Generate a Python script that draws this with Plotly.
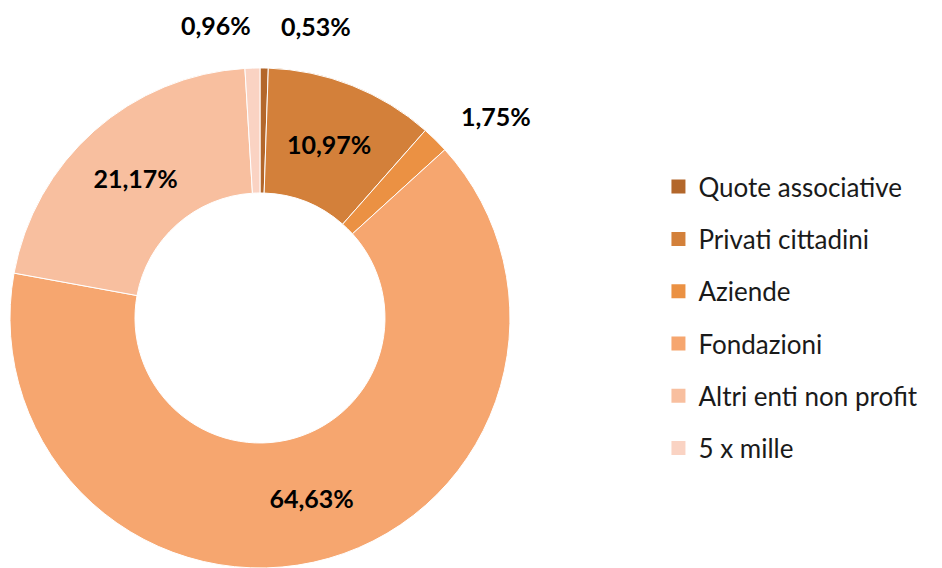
import plotly.graph_objects as go

# Fonti di finanziamento (%)
labels = ["Quote associative", "Privati cittadini", "Aziende",
          "Fondazioni", "Altri enti non profit", "5 x mille"]
values = [0.53, 10.97, 1.75, 64.63, 21.17, 0.96]
colors = ["#B3672B", "#D3803A", "#EB9143", "#F6A66F", "#F8BF9F", "#FAD3C3"]

# which slices get their label inside the ring
inside = [False, True, False, True, True, False]

FONT = "Lato"

fig = go.Figure()

fig.add_trace(go.Pie(
    labels=labels,
    values=values,
    hole=0.5,
    sort=False,
    direction="clockwise",
    rotation=0,
    marker=dict(colors=colors, line=dict(color="white", width=1)),
    texttemplate=["%{value:.2f}%" if i else "" for i in inside],
    textposition="inside",
    insidetextorientation="horizontal",
    textfont=dict(family=FONT, size=25, color="black", weight="bold"),
    domain=dict(x=[0.0021, 0.5329], y=[0.0141, 0.8944]),
    showlegend=False,
))

# legend entries drawn as dummy square markers so the spacing can be controlled
for lab, col in zip(labels, colors):
    fig.add_trace(go.Scatter(
        x=[None], y=[None],
        mode="markers",
        marker=dict(symbol="square", size=14, color=col),
        name=lab,
        legendgroup=lab,
    ))

# small slices: labels sit outside the ring
outside_pos = {0: (0.327, 0.9683), 2: (0.518, 0.8098), 5: (0.2205, 0.970)}
for idx, (px_, py_) in outside_pos.items():
    fig.add_annotation(
        x=px_, y=py_, xref="paper", yref="paper",
        xanchor="center", yanchor="middle",
        text=f"{values[idx]:.2f}%".replace(".", ","),
        showarrow=False,
        font=dict(family=FONT, size=25, color="black", weight="bold"),
    )

fig.update_layout(
    width=942,
    height=568,
    margin=dict(l=0, r=0, t=0, b=0),
    paper_bgcolor="white",
    plot_bgcolor="white",
    separators=",.",
    xaxis=dict(visible=False),
    yaxis=dict(visible=False),
    legend=dict(
        x=0.6905, y=0.7268, xanchor="left", yanchor="top",
        font=dict(family=FONT, size=26, color="#1a1a1a"),
        tracegroupgap=15.5,
        bgcolor="rgba(0,0,0,0)",
    ),
)

fig.write_html("out.html")
